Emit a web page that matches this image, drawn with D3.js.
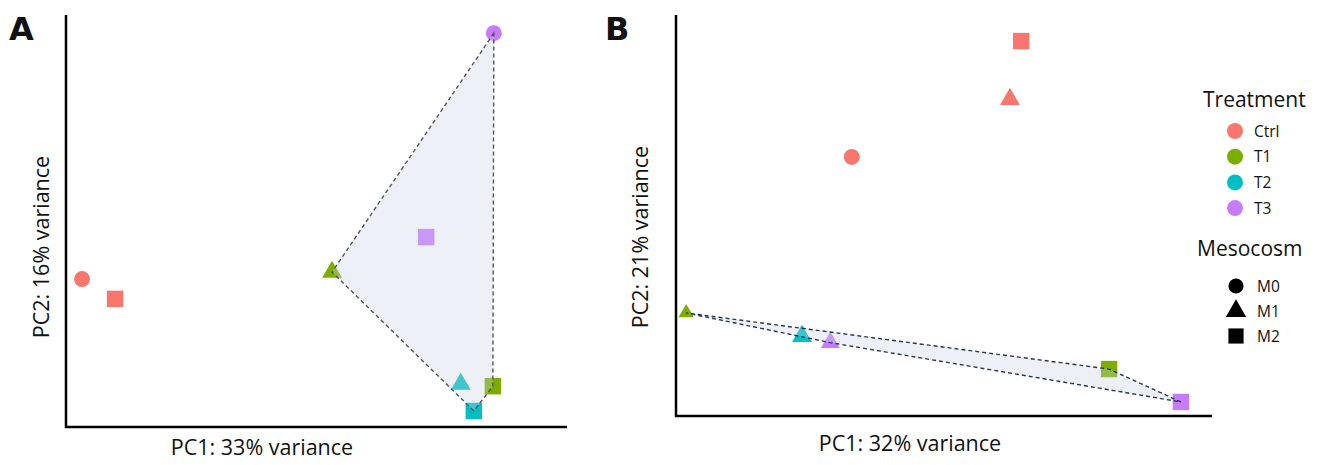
<!DOCTYPE html>
<html><head><meta charset="utf-8">
<script src="https://cdn.jsdelivr.net/npm/d3@7"></script>
<style>body{margin:0;background:#fff}svg{display:block}text{font-family:"Open Sans",Lato,sans-serif;fill:#111}</style>
</head><body><svg id="c" width="1322" height="465"></svg>
<script>
const treatments = ["Ctrl","T1","T2","T3"];
const treatmentColors = ["#F8766D","#7CAE00","#00BFC4","#C77CFF"];
const mesocosms = ["M0","M1","M2"];
// Panel A samples
const aTreatment = ["Ctrl","Ctrl","T1","T3","T3","T2","T1","T2"];
const aMesocosm  = ["M0","M2","M1","M2","M0","M1","M2","M2"];
const aPC1 = [3.2, 9.8, 53.1, 71.9, 85.4, 78.8, 85.2, 81.4];
const aPC2 = [35.9, 31.1, 37.6, 46.1, 95.6, 10.4, 9.9, 3.9];
// Panel B samples
const bTreatment = ["Ctrl","Ctrl","Ctrl","T1","T2","T3","T1","T3"];
const bMesocosm  = ["M2","M1","M0","M1","M1","M1","M2","M2"];
const bPC1 = [64.4, 62.3, 32.8, 1.9, 23.5, 28.8, 80.8, 94.2];
const bPC2 = [93.5, 79.0, 64.6, 25.7, 19.9, 18.3, 11.7, 3.5];

const svg = d3.select("#c");
const color = d3.scaleOrdinal(treatments, treatmentColors);
const shape = d3.scaleOrdinal(mesocosms, [d3.symbolCircle, d3.symbolTriangle, d3.symbolSquare]);
const sizeOf = {M0: 200, M1: 170, M2: 270};

function panel(cfg){
  const x = d3.scaleLinear([0,100],[cfg.x0,cfg.x1]);
  const y = d3.scaleLinear([0,100],[cfg.y1,cfg.y0]);
  const g = svg.append("g");
  const pts = cfg.pc1.map((v,i)=>({x:x(v), y:y(cfg.pc2[i]), t:cfg.tr[i], m:cfg.me[i], s:(cfg.sizeAdj[i]||1)}));
  g.selectAll("path.pt").data(pts).join("path").attr("class","pt")
    .attr("transform",d=>`translate(${d.x},${d.y})`)
    .attr("d",d=>d3.symbol(shape(d.m), sizeOf[d.m]*d.s)())
    .attr("fill",d=>color(d.t));
  const hull = d3.polygonHull(pts.filter(d=>d.t!=="Ctrl").map(d=>[d.x,d.y]));
  g.append("path").attr("d","M"+hull.join("L")+"Z")
    .attr("fill","rgb(199,211,231)").attr("fill-opacity",0.32)
    .attr("stroke",cfg.hullStroke).attr("stroke-width",1.4).attr("stroke-dasharray","4,3");
  g.append("path").attr("d",`M${cfg.x0},${cfg.y0}V${cfg.y1}H${cfg.x1}`)
    .attr("fill","none").attr("stroke","#000").attr("stroke-width",2.5);
  g.append("text").attr("x",cfg.xtX).attr("y",cfg.xtY).attr("text-anchor","middle")
    .attr("font-size",21.5).text(cfg.xTitle);
  g.append("text").attr("transform",`translate(${cfg.ytX},${cfg.ytY}) rotate(-90)`)
    .attr("text-anchor","middle").attr("font-size",21.5).text(cfg.yTitle);
  g.append("text").attr("x",cfg.lx).attr("y",40).attr("font-size",32).attr("font-weight",900)
    .style("font-family","'DejaVu Sans',sans-serif").text(cfg.letter);
}

panel({x0:66,x1:567,y0:15,y1:427,pc1:aPC1,pc2:aPC2,tr:aTreatment,me:aMesocosm,sizeAdj:[],
  hullStroke:"#555",xTitle:"PC1: 33% variance",yTitle:"PC2: 16% variance",
  xtX:262,xtY:455,ytX:49,ytY:247,letter:"A",lx:9});
panel({x0:676,x1:1212,y0:15,y1:416,pc1:bPC1,pc2:bPC2,tr:bTreatment,me:bMesocosm,sizeAdj:[1,1,1,0.6,1,0.9,1,1],
  hullStroke:"#2d3552",xTitle:"PC1: 32% variance",yTitle:"PC2: 21% variance",
  xtX:910,xtY:451,ytX:648,ytY:237,letter:"B",lx:605});

// legend
const lg = svg.append("g");
lg.append("text").attr("x",1203).attr("y",107).attr("font-size",21).text("Treatment");
treatments.forEach((t,i)=>{
  const yy = 131 + i*25.7;
  lg.append("circle").attr("cx",1235).attr("cy",yy).attr("r",8).attr("fill",color(t));
  lg.append("text").attr("x",1254).attr("y",yy+5.5).attr("font-size",15.5).text(t);
});
lg.append("text").attr("x",1197).attr("y",256).attr("font-size",21).text("Mesocosm");
mesocosms.forEach((m,i)=>{
  const yy = 286 + i*25;
  lg.append("path").attr("transform",`translate(1236,${yy})`)
    .attr("d",d3.symbol(shape(m), m==="M2"?230:180)()).attr("fill","#000");
  lg.append("text").attr("x",1257).attr("y",yy+5.5).attr("font-size",15.5).text(m);
});
</script></body></html>
